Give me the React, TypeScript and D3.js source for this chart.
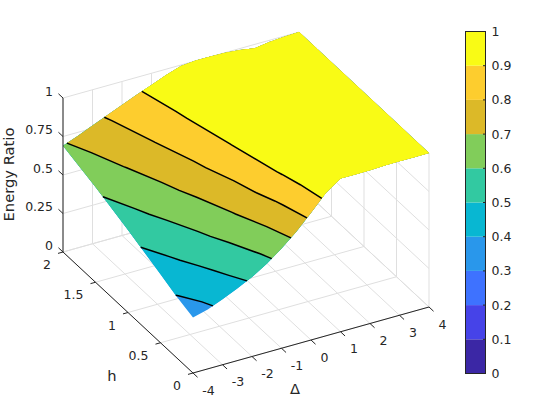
import React from "react";
import * as d3 from "d3";

const deltas = [-4, -3.5, -3, -2.5, -2, -1.5, -1, -0.5, 0, 0.5, 1, 1.5, 2, 2.5, 3, 3.5, 4];
const fields = [0, 0.25, 0.5, 1, 1.5, 2];

// energy ratio along delta, one row per h value
const energyH00 = [0.36, 0.386, 0.426, 0.469, 0.516, 0.576, 0.647, 0.73, 0.827, 0.927, 0.995, 0.995, 0.995, 1, 1, 1, 1];
const energyH025 = [0.397, 0.425, 0.475, 0.524, 0.575, 0.635, 0.705, 0.783, 0.868, 0.953, 1, 1, 1, 1, 1, 1, 1];
const energyH05 = [0.444, 0.485, 0.531, 0.579, 0.634, 0.694, 0.764, 0.836, 0.909, 0.979, 1, 1, 1, 1, 1, 1, 1];
const energyH10 = [0.536, 0.58, 0.626, 0.675, 0.728, 0.785, 0.842, 0.899, 0.953, 1, 1, 1, 1, 1, 1, 1, 1];
const energyH15 = [0.619, 0.662, 0.704, 0.751, 0.798, 0.845, 0.892, 0.937, 0.981, 1, 1, 1, 1, 1, 1, 1, 1];
const energyH20 = [0.69, 0.727, 0.768, 0.808, 0.848, 0.887, 0.924, 0.962, 0.994, 1.003, 1.002, 0.999, 0.99, 0.975, 0.989, 0.996, 1];
const energyRows = [energyH00, energyH025, energyH05, energyH10, energyH15, energyH20];

const deltaTicks = [-4, -3, -2, -1, 0, 1, 2, 3, 4];
const fieldTicks = [0, 0.5, 1, 1.5, 2];
const ratioTicks = [0, 0.25, 0.5, 0.75, 1];
const barTicks = [0, 0.1, 0.2, 0.3, 0.4, 0.5, 0.6, 0.7, 0.8, 0.9, 1];
const bandColors = ["#3b27a5", "#4643e8", "#3e72ff", "#2997eb", "#08b7d2", "#32c9a1", "#81cd5a", "#dcb928", "#fdcd2e", "#f9fb15"];
const contourLevels = [0.4, 0.5, 0.6, 0.7, 0.8, 0.9];
const fillLevels = [0.3, 0.4, 0.5, 0.6, 0.7, 0.8, 0.9];

const FONT = "DejaVu Sans";
const INK = "#262626";
const GRID = "#dfdfdf";
const TICK_SIZE = 12.5;
const LABEL_SIZE = 14.7;

const origin = [193, 373];
const xDelta = d3.scaleLinear().domain([-4, 4]).range([0, 236]);
const yDelta = d3.scaleLinear().domain([-4, 4]).range([0, -66]);
const xField = d3.scaleLinear().domain([0, 2]).range([0, -130]);
const yField = d3.scaleLinear().domain([0, 2]).range([0, -121]);
const yRatio = d3.scaleLinear().domain([0, 1]).range([0, -154]);
const barY = d3.scaleLinear().domain([0, 1]).range([373.5, 31.5]);

const project = (d: number, h: number, z: number): [number, number] => [
  origin[0] + xDelta(d) + xField(h),
  origin[1] + yDelta(d) + yField(h) + yRatio(z),
];

const seg = (a: [number, number], b: [number, number]) => `M${a[0]},${a[1]}L${b[0]},${b[1]}`;

const nx = deltas.length;
const ny = fields.length;
const flat = energyRows.flat();
const deltaOfIndex = d3.scaleLinear().domain(d3.range(nx)).range(deltas);
const fieldOfIndex = d3.scaleLinear().domain(d3.range(ny)).range(fields);

// d3.contours puts a value at index + 0.5, and runs half a cell past the border
const toIndex = (p: number[]) => [
  Math.min(nx - 1, Math.max(0, p[0] - 0.5)),
  Math.min(ny - 1, Math.max(0, p[1] - 0.5)),
];

const surfaceZ = (ix: number, iy: number) => {
  const x0 = Math.min(nx - 2, Math.floor(ix));
  const y0 = Math.min(ny - 2, Math.floor(iy));
  const tx = ix - x0;
  const ty = iy - y0;
  const a = energyRows[y0][x0];
  const b = energyRows[y0][x0 + 1];
  const c = energyRows[y0 + 1][x0];
  const d = energyRows[y0 + 1][x0 + 1];
  return (a * (1 - tx) + b * tx) * (1 - ty) + (c * (1 - tx) + d * tx) * ty;
};

const line = d3.line<number[]>();

const contourGen = d3.contours().size([nx, ny]).smooth(true);

const bandPaths = fillLevels.map((level) => {
  const geo = contourGen.contour(flat, level);
  const rings = geo.coordinates.flat();
  const d = rings
    .map((ring) =>
      line(
        ring.map((p) => {
          const [ix, iy] = toIndex(p);
          return project(deltaOfIndex(ix), fieldOfIndex(iy), surfaceZ(ix, iy));
        })
      )
    )
    .join("");
  return { level, d, color: bandColors[Math.round(level * 10)] };
});

// keep only ring pieces that sit on the level, not the ones along the border
const contourPaths = contourLevels.map((level) => {
  const geo = contourGen.contour(flat, level);
  const rings = geo.coordinates.flat();
  let d = "";
  rings.forEach((ring) => {
    let run: number[][] = [];
    ring.forEach((p) => {
      const [ix, iy] = toIndex(p);
      if (Math.abs(surfaceZ(ix, iy) - level) < 1e-6) {
        run.push(project(deltaOfIndex(ix), fieldOfIndex(iy), level));
      } else {
        if (run.length > 1) d += line(run);
        run = [];
      }
    });
    if (run.length > 1) d += line(run);
  });
  return d;
});

const gridPaths = [
  ...deltaTicks.map((t) => seg(project(t, 0, 0), project(t, 2, 0))),
  ...fieldTicks.map((t) => seg(project(-4, t, 0), project(4, t, 0))),
  ...deltaTicks.map((t) => seg(project(t, 2, 0), project(t, 2, 1))),
  ...fieldTicks.map((t) => seg(project(4, t, 0), project(4, t, 1))),
  ...ratioTicks.map((t) => seg(project(-4, 2, t), project(4, 2, t))),
  ...ratioTicks.map((t) => seg(project(4, 2, t), project(4, 0, t))),
].join("");

const axisPaths = [
  seg(project(-4, 0, 0), project(4, 0, 0)),
  seg(project(-4, 0, 0), project(-4, 2, 0)),
  seg(project(-4, 2, 0), project(-4, 2, 1)),
  ...deltaTicks.map((t) => seg(project(t, 0, 0), project(t, -0.07, 0))),
  ...fieldTicks.map((t) => seg(project(-4, t, 0), project(-4.17, t, 0))),
  ...ratioTicks.map((t) => seg(project(-4, 2, t), project(-4, 2.07, t))),
].join("");

const App = () => (
  <svg
    width={560}
    height={420}
    viewBox="0 0 560 420"
    style={{ position: "absolute", left: 0, top: 0, background: "#fff" }}
    fontFamily={FONT}
    fill={INK}
  >
    <path d={gridPaths} fill="none" stroke={GRID} strokeWidth={1} />

    {bandPaths.map((b) => (
      <path key={b.level} d={b.d} fill={b.color} stroke="none" />
    ))}
    {contourPaths.map((d, i) => (
      <path key={i} d={d} fill="none" stroke="#000" strokeWidth={1.5} />
    ))}

    <path d={axisPaths} fill="none" stroke={INK} strokeWidth={1} />

    {ratioTicks.map((t) => {
      const [x, y] = project(-4, 2, t);
      return (
        <text key={t} x={x - 10} y={y - 7} fontSize={TICK_SIZE} textAnchor="end" dominantBaseline="central">
          {t}
        </text>
      );
    })}
    {fieldTicks.map((t) => {
      const [x, y] = project(-4, t, 0);
      return (
        <text key={t} x={x - 12} y={y + 12.5} fontSize={TICK_SIZE} textAnchor="end" dominantBaseline="central">
          {t}
        </text>
      );
    })}
    {deltaTicks.map((t) => {
      const [x, y] = project(t, 0, 0);
      return (
        <text
          key={t}
          x={x + (t < 0 ? 15.5 : 13.5)}
          y={y + 17}
          fontSize={TICK_SIZE}
          textAnchor="middle"
          dominantBaseline="central"
        >
          {t}
        </text>
      );
    })}

    <text x={112} y={375.5} fontSize={LABEL_SIZE} textAnchor="middle" dominantBaseline="central">
      h
    </text>
    <text x={295} y={388.5} fontSize={LABEL_SIZE} textAnchor="middle" dominantBaseline="central">
      Δ
    </text>
    <text
      transform="translate(8.5,174.5) rotate(-90)"
      fontSize={LABEL_SIZE}
      textAnchor="middle"
      dominantBaseline="central"
    >
      Energy Ratio
    </text>

    {bandColors.map((c, i) => (
      <rect
        key={c}
        x={466}
        y={barY(barTicks[i + 1])}
        width={19}
        height={barY(barTicks[i]) - barY(barTicks[i + 1])}
        fill={c}
      />
    ))}
    <rect x={465.5} y={31.5} width={20} height={342} fill="none" stroke={INK} strokeWidth={1} />
    {barTicks.map((t) => (
      <g key={t}>
        <line x1={483} x2={485.5} y1={barY(t)} y2={barY(t)} stroke={INK} strokeWidth={1} />
        <text x={491.5} y={barY(t)} fontSize={TICK_SIZE} dominantBaseline="central">
          {t}
        </text>
      </g>
    ))}
  </svg>
);

export default App;
